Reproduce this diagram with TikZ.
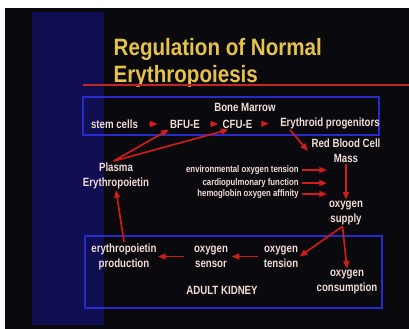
\documentclass[tikz,border=0pt]{standalone}
\usepackage{fontspec}
\newfontfamily\slidefont{Liberation Sans}[FakeStretch=0.81]
\newfontfamily\titlefont{Liberation Sans}[FakeStretch=0.87]
\usetikzlibrary{calc,arrows.meta}

\definecolor{slidebg}{HTML}{0A0A0E}
\definecolor{bandblue}{HTML}{0E0E50}
\definecolor{titleyellow}{HTML}{E6C24C}
\definecolor{labelpink}{HTML}{F2DCD6}
\definecolor{arrowred}{HTML}{D21C1C}
\definecolor{boxblue}{HTML}{2A2ACC}
\definecolor{rulered}{HTML}{C42424}

\tikzset{
  lbl/.style={text=labelpink, font=\slidefont\bfseries\fontsize{10.2}{12.8}\selectfont, align=center, inner sep=1pt},
  envlbl/.style={lbl, font=\slidefont\bfseries\fontsize{8.2}{9}\selectfont, anchor=east},
  titletext/.style={text=titleyellow, font=\titlefont\bfseries\fontsize{20.2}{23}\selectfont, anchor=base west, inner sep=0pt},
  redarrow/.style={-{Triangle[length=6.5pt,width=5pt]}, draw=arrowred, line width=1.4pt},
  bluebox/.style={draw=boxblue, line width=1.2pt},
}

\begin{document}
\begin{tikzpicture}[x=0.03cm, y=-0.03cm]
    		% Slide background, pixel coordinates (y down)
    		\useasboundingbox (0,0) rectangle (409,329);
    		\fill[white] (0,0) rectangle (409,329);
    		\fill[slidebg] (5,8) rectangle (409,329);
    		\fill[bandblue] (32,12) rectangle (104,325);
    		
    		% Title
    		\node[titletext] (title1) at (113.5,55) {Regulation of Normal};
    		\node[titletext] (title2) at (113.5,82) {Erythropoiesis};
    		\draw[rulered, line width=1.3pt] (83,85) -- (409,85);
    		
    		% Bone marrow box
    		\draw[bluebox] (83,97) rectangle (379,135);
    		\node[lbl] (marrow) at (245,107) {Bone Marrow};
    		\node[lbl] (stem) at (114.5,124) {stem cells};
    		\node[lbl] (bfu) at (185,124) {BFU-E};
    		\node[lbl] (cfu) at (237.5,124) {CFU-E};
    		\node[lbl] (prog) at (330,123) {Erythroid progenitors};
    		\draw[redarrow, shorten <=8.5pt, shorten >=9.4pt] (stem) -- (bfu);
    		\draw[redarrow, shorten <=7.7pt, shorten >=2.6pt] (bfu) -- (cfu);
    		\draw[redarrow, shorten <=6.8pt, shorten >=8.5pt] (cfu) -- (prog);
    		
    		% Red cell mass and its supply
    		\node[lbl] (rbc) at (346,151) {Red Blood Cell\\Mass};
    		\draw[redarrow] ($(prog.south west)!0.11!(prog.south east)$) -- ([xshift=-2pt]rbc.west);
    		\node[lbl] (supply) at (346,213) {oxygen\\supply};
    		\draw[redarrow] (rbc.south) -- (supply.north);
    		
    		% Factors acting on the supply
    		\node[envlbl] (env1) at (300,170) {environmental oxygen tension};
    		\node[envlbl] (env2) at (300,183) {cardiopulmonary function};
    		\node[envlbl] (env3) at (300,194) {hemoglobin oxygen affinity};
    		\coordinate (envtip1) at (327,170);
    		\coordinate (envtip2) at (327,183);
    		\coordinate (envtip3) at (327,194);
    		\draw[redarrow, shorten <=1.5pt] (env1.east) -- (envtip1);
    		\draw[redarrow, shorten <=1.5pt] (env2.east) -- (envtip2);
    		\draw[redarrow, shorten <=1.5pt] (env3.east) -- (envtip3);
    		
    		% Plasma erythropoietin back to the marrow
    		\node[lbl] (plasma) at (116,175.5) {Plasma\\Erythropoietin};
    		\draw[redarrow] ([xshift=-2pt]plasma.north) -- (bfu.south west);
    		\draw[redarrow] ([xshift=-2pt]plasma.north) -- ($(cfu.south west)!0.22!(cfu.south east)$);
    		
    		% Adult kidney box
    		\draw[bluebox] (85,236) rectangle (382,308);
    		\node[lbl] (prod) at (124,256.5) {erythropoietin\\production};
    		\node[lbl] (sensor) at (211,256.5) {oxygen\\sensor};
    		\node[lbl] (tension) at (281,256.5) {oxygen\\tension};
    		\node[lbl] (consumption) at (347,282) {oxygen\\consumption};
    		\node[lbl] (kidney) at (222,290) {ADULT KIDNEY};
    		\draw[redarrow, shorten <=7.7pt] (sensor.west) -- (prod.east);
    		\draw[redarrow, shorten <=3.4pt, shorten >=2pt] (tension.west) -- (sensor.east);
    		\draw[redarrow] ([xshift=-3pt]supply.south) -- (tension.east);
    		\draw[redarrow] ([xshift=-3pt]supply.south) -- (consumption.north);
    		\draw[redarrow] (prod.north) -- (plasma.south);
    	\end{tikzpicture}
\end{document}
